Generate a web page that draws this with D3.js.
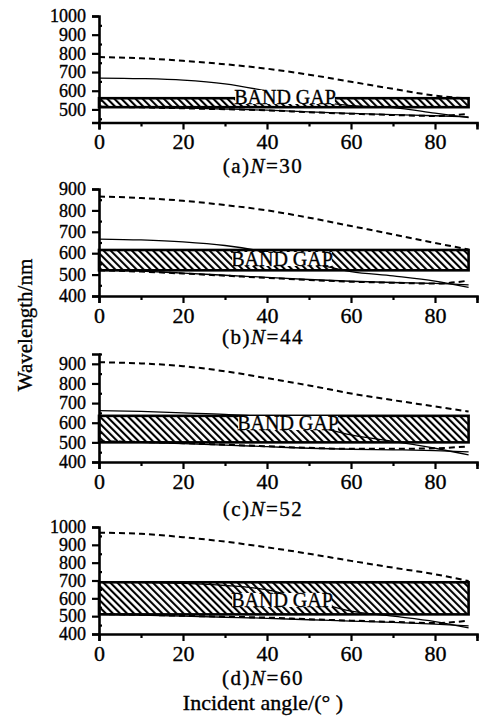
<!DOCTYPE html>
<html>
<head>
<meta charset="utf-8">
<script src="https://cdn.jsdelivr.net/npm/d3@7"></script>
<style>
  body { margin: 0; background: #fff; }
  text { font-family: "Liberation Serif", "Times New Roman", serif; fill: #000; stroke: #000; stroke-width: 0.35px; }
</style>
</head>
<body>
<svg id="chart" width="484" height="720"></svg>
<script>
const angles = [0, 10, 20, 30, 40, 50, 60, 70, 80, 88];

const captions = ["(a)", "(b)", "(c)", "(d)"];
const periods = [30, 44, 52, 60];

// omnidirectional gap, nm
const gapLow = [512, 520, 500, 510];
const gapHigh = [560, 615, 635, 690];
const gapEnd = 88;

// band edges, nm (dashed = TM, solid = TE)
const upperDashA = [780, 774, 760, 742, 718, 686, 648, 610, 574, 558];
const upperSolidA = [668, 665, 657, 637, 598, 550, 520, 510, 480, 456];
const lowerDashA = [514, 511, 506, 501, 495, 485, 477, 470, 465, 476];
const lowerSolidA = [515, 512, 507, 502, 496, 487, 479, 472, 466, 460];

const upperDashB = [865, 858, 845, 825, 800, 766, 727, 688, 648, 617];
const upperSolidB = [666, 662, 653, 636, 605, 558, 514, 494, 470, 440];
const lowerDashB = [520, 514, 505, 495, 485, 475, 467, 462, 458, 472];
const lowerSolidB = [522, 516, 507, 497, 487, 477, 469, 463, 459, 452];

const upperDashC = [908, 902, 888, 862, 827, 790, 749, 715, 683, 657];
const upperSolidC = [662, 658, 650, 642, 628, 590, 538, 505, 470, 436];
const lowerDashC = [505, 502, 496, 488, 480, 472, 467, 467, 470, 479];
const lowerSolidC = [503, 500, 494, 486, 478, 470, 465, 462, 458, 452];

const upperDashD = [968, 962, 943, 918, 886, 850, 810, 772, 735, 697];
const upperSolidD = [692, 690, 684, 672, 648, 590, 528, 500, 470, 434];
const lowerDashD = [512, 508, 502, 497, 492, 483, 475, 468, 461, 475];
const lowerSolidD = [510, 506, 500, 494, 488, 480, 472, 465, 455, 445];

const upperDash = [upperDashA, upperDashB, upperDashC, upperDashD];
const upperSolid = [upperSolidA, upperSolidB, upperSolidC, upperSolidD];
const lowerDash = [lowerDashA, lowerDashB, lowerDashC, lowerDashD];
const lowerSolid = [lowerSolidA, lowerSolidB, lowerSolidC, lowerSolidD];

const xTicks = [0, 20, 40, 60, 80];
const xMinor = [10, 30, 50, 70, 90];

// per panel y layout
const panels = [
  { dom: [430, 1000], rng: [122.5, 16], ticks: [500, 600, 700, 800, 900, 1000], minor: [450, 550, 650, 750, 850, 950], cap: 173, tx: 285, ty: 104 },
  { dom: [400, 900], rng: [296, 189], ticks: [400, 500, 600, 700, 800, 900], minor: [450, 550, 650, 750, 850], cap: 344, tx: 282, ty: 266 },
  { dom: [400, 950], rng: [462, 354], ticks: [400, 500, 600, 700, 800, 900], minor: [450, 550, 650, 750, 850, 950], cap: 516, tx: 288, ty: 430 },
  { dom: [400, 1000], rng: [634, 527], ticks: [400, 500, 600, 700, 800, 900, 1000], minor: [450, 550, 650, 750, 850, 950], cap: 685, tx: 282, ty: 607 }
];

const svg = d3.select("#chart");

svg.append("defs").append("pattern")
  .attr("id", "hatch")
  .attr("patternUnits", "userSpaceOnUse")
  .attr("width", 5).attr("height", 5)
  .attr("patternTransform", "rotate(-45)")
  .call(p => {
    p.append("rect").attr("width", 5).attr("height", 5).attr("fill", "#fff");
    p.append("line").attr("x1", 1).attr("y1", 0).attr("x2", 1).attr("y2", 5)
      .attr("stroke", "#000").attr("stroke-width", 2.2);
  });

const x = d3.scaleLinear().domain([0, 90]).range([99, 477]);

panels.forEach((pn, i) => {
  const g = svg.append("g");
  const y = d3.scaleLinear().domain(pn.dom).range(pn.rng);

  // band gap box
  g.append("rect")
    .attr("x", x(0))
    .attr("y", y(gapHigh[i]))
    .attr("width", x(gapEnd) - x(0))
    .attr("height", y(gapLow[i]) - y(gapHigh[i]))
    .attr("fill", "url(#hatch)")
    .attr("stroke", "#000")
    .attr("stroke-width", 2.6);

  const line = d3.line()
    .x((d, j) => x(angles[j]))
    .y(d => y(d))
    .curve(d3.curveMonotoneX);

  const series = [
    { v: upperDash[i], dash: "6,4", w: 2 },
    { v: upperSolid[i], dash: null, w: 1.3 },
    { v: lowerDash[i], dash: "6,4", w: 2 },
    { v: lowerSolid[i], dash: null, w: 1.3 }
  ];
  series.forEach(s => {
    g.append("path")
      .attr("d", line(s.v))
      .attr("fill", "none")
      .attr("stroke", "#000")
      .attr("stroke-width", s.w)
      .attr("stroke-dasharray", s.dash);
  });

  // BAND GAP label on a white patch
  const lbl = g.append("text")
    .attr("x", pn.tx).attr("y", pn.ty)
    .attr("text-anchor", "middle")
    .attr("font-size", 20)
    .text("BAND GAP");
  const bb = lbl.node().getBBox();
  g.insert("rect", "text")
    .attr("x", bb.x + 1).attr("y", bb.y + 4)
    .attr("width", bb.width - 2).attr("height", bb.height - 8)
    .attr("fill", "#fff");

  // axes
  const yAxis = g.append("g")
    .attr("transform", `translate(${x(0)},0)`)
    .call(d3.axisLeft(y).tickValues(pn.ticks).tickFormat(d3.format("d")).tickSize(7).tickPadding(6));
  g.append("g")
    .attr("transform", `translate(${x(0)},0)`)
    .call(d3.axisLeft(y).tickValues(pn.minor).tickSize(-3).tickFormat(""))
    .call(a => a.select(".domain").remove());

  const xAxis = g.append("g")
    .attr("transform", `translate(0,${pn.rng[0]})`)
    .call(d3.axisBottom(x).tickValues(xTicks).tickSize(7).tickPadding(4));
  g.append("g")
    .attr("transform", `translate(0,${pn.rng[0]})`)
    .call(d3.axisBottom(x).tickValues(xMinor).tickSize(4).tickFormat(""))
    .call(a => a.select(".domain").remove());

  g.selectAll(".domain").attr("stroke-width", 2.6);
  g.selectAll(".tick line").attr("stroke-width", 2.2);
  yAxis.selectAll("text").attr("font-size", 18).attr("font-family", "Liberation Serif");
  xAxis.selectAll("text").attr("font-size", 22).attr("font-family", "Liberation Serif");

  // caption
  const cap = g.append("text")
    .attr("x", 263).attr("y", pn.cap)
    .attr("text-anchor", "middle")
    .attr("font-size", 21)
    .attr("letter-spacing", 1.5);
  cap.append("tspan").text(captions[i]);
  cap.append("tspan").attr("font-style", "italic").text("N");
  cap.append("tspan").text("=" + periods[i]);
});

svg.append("text")
  .attr("transform", "translate(32,325) rotate(-90)")
  .attr("text-anchor", "middle")
  .attr("font-size", 21)
  .text("Wavelength/nm");

svg.append("text")
  .attr("x", 263).attr("y", 710)
  .attr("text-anchor", "middle")
  .attr("font-size", 22)
  .text("Incident angle/(\u00b0 )");
</script>
</body>
</html>
